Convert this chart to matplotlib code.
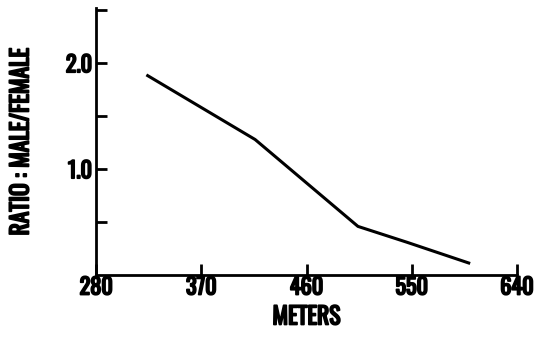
import matplotlib.pyplot as plt
import matplotlib.patheffects as pe
from matplotlib import font_manager

meters = [323, 416, 504, 546, 600]
ratio = [1.89, 1.28, 0.46, 0.31, 0.11]
xticks = [280, 370, 460, 550, 640]
yticks_major = [1.0, 2.0]
yticks_minor = [0.5, 1.5, 2.5]

names = {f.name for f in font_manager.fontManager.ttflist}
if "Oswald" in names:
    fam, size = "Oswald", 16
elif "Barlow Condensed" in names:
    fam, size = "Barlow Condensed", 19
else:
    fam, size = "DejaVu Sans", 12
plt.rcParams["font.family"] = [fam, "DejaVu Sans"]
plt.rcParams["font.weight"] = "bold"

# fake a heavier weight for the condensed type
heavy = [pe.withStroke(linewidth=1.3, foreground="black")]

fig = plt.figure(figsize=(5.34, 3.38), dpi=100)
ax = fig.add_axes([0.18, 0.186, 0.788, 0.79])
ax.plot(meters, ratio, color="black", lw=2.2, solid_capstyle="butt")

ax.set_xlim(280, 640)
ax.set_ylim(0, 2.52)
ax.set_xticks(xticks)
ax.set_xticklabels([str(t) for t in xticks])
ax.set_yticks(yticks_major)
ax.set_yticklabels(["1.0", "2.0"])
ax.set_yticks(yticks_minor, minor=True)

for s in ["top", "right"]:
    ax.spines[s].set_visible(False)
for s in ["left", "bottom"]:
    ax.spines[s].set_linewidth(2)

ax.tick_params(axis="both", which="both", direction="in", width=2, length=8,
               labelsize=size, pad=3)
ax.tick_params(axis="x", pad=1)

ax.set_xlabel("METERS", fontsize=size + 1, fontweight="bold", labelpad=5)
ax.set_ylabel("RATIO : MALE/FEMALE", fontsize=size + 1, fontweight="bold", labelpad=24)

for t in ax.get_xticklabels() + ax.get_yticklabels() + [ax.xaxis.label, ax.yaxis.label]:
    t.set_path_effects(heavy)

fig.savefig("out.png", dpi=100)
